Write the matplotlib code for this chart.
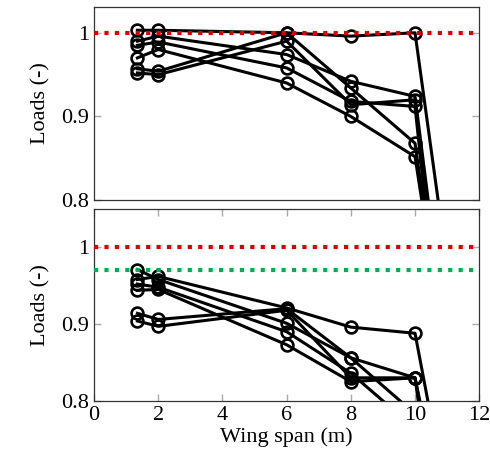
import matplotlib.pyplot as plt
from matplotlib.ticker import FuncFormatter

plt.rcParams['font.family'] = ['Liberation Serif', 'DejaVu Serif']
plt.rcParams['font.size'] = 16

# wing span positions (last point lies below the plotted range)
span = [1.35, 2, 6, 8, 10, 11]

# top panel: load ratios per configuration
top_loads = [
    [1.003, 1.003, 1.000, 0.996, 1.000, 0.722],
    [0.990, 0.996, 0.974, 0.942, 0.924, 0.622],
    [0.985, 0.989, 0.958, 0.918, 0.912, 0.551],
    [0.970, 0.980, 0.940, 0.900, 0.852, 0.604],
    [0.957, 0.954, 1.000, 0.934, 0.868, 0.598],
    [0.952, 0.950, 0.990, 0.914, 0.920, 0.577],
]
top_refs = [1.0]
top_ref_colors = ['#dd0000']

# bottom panel
bottom_loads = [
    [0.958, 0.962, 0.921, 0.896, 0.888, 0.668],
    [0.971, 0.958, 0.901, 0.856, 0.830, 0.630],
    [0.944, 0.945, 0.873, 0.825, 0.830, 0.530],
    [0.952, 0.948, 0.890, 0.836, 0.764, 0.700],
    [0.914, 0.906, 0.920, 0.856, 0.783, 0.700],
    [0.904, 0.897, 0.918, 0.830, 0.830, 0.600],
]
bottom_refs = [1.0, 0.97]
bottom_ref_colors = ['#dd0000', '#00b050']

fig = plt.figure(figsize=(4.9, 4.55), dpi=100)
ax1 = fig.add_axes([0.192, 0.560, 0.786, 0.425])
ax2 = fig.add_axes([0.192, 0.119, 0.786, 0.422])


def draw(ax, loads, refs, colors, ytop, xticks):
    for row in loads:
        ax.plot(span, row, color='black', lw=2.2, marker='o', ms=8.5,
                mfc='none', mec='black', mew=1.9, zorder=2)
    for r, c in zip(refs, colors):
        ax.axhline(r, color=c, lw=3, ls=(0, (1, 1.5)), zorder=3)
    ax.set_xlim(0, 12)
    ax.set_ylim(0.8, ytop)
    ax.set_yticks([0.8, 0.9, 1.0])
    ax.yaxis.set_major_formatter(FuncFormatter(lambda v, p: f"{v:g}"))
    ax.set_ylabel('Loads (-)', labelpad=8)
    ax.tick_params(direction='in', color='#aaaaaa', length=5, width=1,
                   left=True, right=True, top=xticks, bottom=xticks)
    if xticks:
        ax.set_xticks([0, 2, 4, 6, 8, 10, 12])
    else:
        ax.set_xticks([])
    for s in ax.spines.values():
        s.set_color('#333333')
        s.set_linewidth(0.9)


draw(ax1, top_loads, top_refs, top_ref_colors, 1.031, False)
draw(ax2, bottom_loads, bottom_refs, bottom_ref_colors, 1.05, True)
ax2.set_xlabel('Wing span (m)', labelpad=2)

fig.savefig('out.png', dpi=100)
